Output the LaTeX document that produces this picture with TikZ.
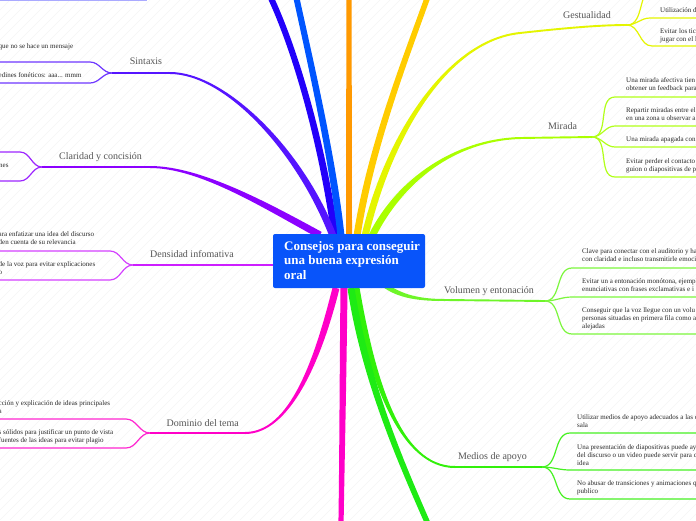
\documentclass[tikz,border=0pt]{standalone}
\usepackage{fontspec}
\setmainfont{Liberation Serif}
\usetikzlibrary{calc}
\definecolor{cblue}{RGB}{8,84,250}
\definecolor{cdblue}{RGB}{34,0,250}
\definecolor{cblue2}{RGB}{0,85,255}
\definecolor{corange}{RGB}{255,153,0}
\definecolor{cgold}{RGB}{255,204,0}
\definecolor{cyel}{RGB}{228,245,0}
\definecolor{clime}{RGB}{170,255,0}
\definecolor{cvol}{RGB}{110,245,40}
\definecolor{cmed}{RGB}{50,240,10}
\definecolor{cgreen}{RGB}{30,235,20}
\definecolor{cmag}{RGB}{255,0,200}
\definecolor{cden}{RGB}{205,30,255}
\definecolor{ccla}{RGB}{140,0,255}
\definecolor{csin}{RGB}{85,20,255}
\definecolor{clav}{RGB}{170,170,255}
\definecolor{lblc}{RGB}{85,85,85}
\definecolor{txt}{RGB}{40,40,40}
% tapered branch: colour, start, control1, control2, end, start half width, end half width
\newcommand\mmtaper[7]{%
  \path ($(#2)!#6!90:(#3)$) coordinate (tA1)
        ($(#2)!#6!-90:(#3)$) coordinate (tA2)
        ($(#5)!#7!-90:(#4)$) coordinate (tB1)
        ($(#5)!#7!90:(#4)$) coordinate (tB2);
  \fill[#1] (tA1) .. controls ($(#3)+(tA1)-(#2)$) and ($(#4)+(tB1)-(#5)$) .. (tB1)
        -- (tB2) .. controls ($(#4)+(tB2)-(#5)$) and ($(#3)+(tA2)-(#2)$) .. (tA2) -- cycle;
}
\begin{document}
\begin{tikzpicture}[x=1pt,y=-1pt,
  lbl/.style={font=\fontsize{10}{12}\selectfont, text=lblc, inner sep=0, anchor=base},
  leaf/.style={font=\fontsize{7}{8}\selectfont, text=txt, inner sep=0, align=left, anchor=north west},
  sub/.style={line width=1.2pt},
  hline/.style={line width=1.9pt},
  title/.style={font=\fontsize{13}{14.5}\selectfont\bfseries, text=white, inner sep=0, align=left, anchor=north west},
  cbox/.style={fill=cblue, rounded corners=2pt, minimum width=152pt, minimum height=54pt, inner sep=0}]
\useasboundingbox (0,0) rectangle (696,520);
\clip (0,0) rectangle (696,520);
\fill[white] (0,0) rectangle (696,520);
\foreach \i in {-520,-510,...,700} \draw[black!4, line width=0.6pt] (\i,520) -- ++(520,-520);

% ---------- coordinates ----------
\coordinate (lav1) at (-2,0.5); \coordinate (lav2) at (147,0.5);
\coordinate (dbS) at (335,236); \coordinate (dbE) at (270,-4);
\coordinate (blS) at (341,236); \coordinate (blE) at (296,-4);
\coordinate (orS) at (349,236); \coordinate (orE) at (349,-4);
\coordinate (goS) at (357,236); \coordinate (goE) at (428,-4);
\coordinate (geS) at (365,236); \coordinate (geE) at (520,33); \coordinate (geJ) at (627,25);
\coordinate (miS) at (372,236); \coordinate (miE) at (520,138); \coordinate (miJ) at (592,137);
\coordinate (voS) at (383,284); \coordinate (voE) at (445,300); \coordinate (voJ) at (545,301);
\coordinate (meS) at (356,288); \coordinate (meE) at (455,467); \coordinate (meJ) at (542,467);
\coordinate (grS) at (351,288); \coordinate (grE) at (428,524);
\coordinate (bmS) at (344,288); \coordinate (bmE) at (341,524);
\coordinate (doS) at (336,288); \coordinate (doE) at (245,433); \coordinate (doJ) at (150,433);
\coordinate (deS) at (280,265); \coordinate (deJ) at (133,265);
\coordinate (clS) at (320,235); \coordinate (clE) at (150,167); \coordinate (clJ) at (42,167);
\coordinate (siS) at (333,236); \coordinate (siE) at (170,73); \coordinate (siJ) at (112,73);

% ---------- sub-branches ----------
\draw[line width=1.5pt, clav] (lav1) -- (lav2);
% Sintaxis
\coordinate (siP1) at (90,62); \coordinate (siQ1) at (-2,62);
\coordinate (siP2) at (90,83); \coordinate (siQ2) at (-2,83);
\draw[sub, csin!85!white] (siJ) to[out=180,in=0] (siP1) -- (siQ1);
\draw[sub, csin!85!white] (siJ) to[out=180,in=0] (siP2) -- (siQ2);
% Claridad
\coordinate (clP1) at (20,152); \coordinate (clQ1) at (-2,152);
\coordinate (clP2) at (20,181); \coordinate (clQ2) at (-2,181);
\draw[sub, ccla!85!white] (clJ) to[out=180,in=0] (clP1) -- (clQ1);
\draw[sub, ccla!85!white] (clJ) to[out=180,in=0] (clP2) -- (clQ2);
% Densidad
\coordinate (deP1) at (110,251); \coordinate (deQ1) at (-2,251);
\coordinate (deP2) at (110,280); \coordinate (deQ2) at (-2,280);
\draw[sub, cden!85!white] (deJ) to[out=180,in=0] (deP1) -- (deQ1);
\draw[sub, cden!85!white] (deJ) to[out=180,in=0] (deP2) -- (deQ2);
% Dominio
\coordinate (doP1) at (126,419); \coordinate (doQ1) at (-2,419);
\coordinate (doP2) at (126,448); \coordinate (doQ2) at (-2,448);
\draw[sub, cmag!85!white] (doJ) to[out=180,in=0] (doP1) -- (doQ1);
\draw[sub, cmag!85!white] (doJ) to[out=180,in=0] (doP2) -- (doQ2);
% Gestualidad
\coordinate (geP0) at (655,-12); \coordinate (geQ0) at (698,-12);
\coordinate (geP1) at (650,18); \coordinate (geQ1) at (698,18);
\coordinate (geP2) at (652,46); \coordinate (geQ2) at (698,46);
\draw[sub, cyel] (geJ) to[out=0,in=180] (geP0) -- (geQ0);
\draw[sub, cyel] (geJ) to[out=0,in=180] (geP1) -- (geQ1);
\draw[sub, cyel] (geJ) to[out=0,in=180] (geP2) -- (geQ2);
% Mirada
\foreach \k/\yy in {1/97,2/126,3/147,4/177}{
  \coordinate (miP\k) at (615,\yy); \coordinate (miQ\k) at (698,\yy);
  \draw[sub, clime!90!white] (miJ) to[out=0,in=180] (miP\k) -- (miQ\k);}
% Volumen
\foreach \k/\yy in {1/268,2/297,3/334}{
  \coordinate (voP\k) at (572,\yy); \coordinate (voQ\k) at (698,\yy);
  \draw[sub, cvol!90!white] (voJ) to[out=0,in=180] (voP\k) -- (voQ\k);}
% Medios
\foreach \k/\yy in {1/433,2/470,3/499}{
  \coordinate (meP\k) at (570,\yy); \coordinate (meQ\k) at (698,\yy);
  \draw[sub, cmed!90!white] (meJ) to[out=0,in=180] (meP\k) -- (meQ\k);}

% ---------- main branches ----------
\draw[hline, csin] (siE) -- (siJ);
\draw[hline, ccla] (clE) -- (clJ);
\draw[line width=2.2pt, cden] (deS) -- (deJ);
\draw[hline, cmag] (doE) -- (doJ);
\draw[hline, cyel] (geE) .. controls (565,28) and (600,25) .. (geJ);
\draw[hline, clime] (miE) -- (miJ);
\draw[hline, cvol] (voE) -- (voJ);
\draw[hline, cmed] (meE) -- (meJ);

\mmtaper{cdblue}{dbS}{325,160}{300,60}{dbE}{3.5pt}{3pt}
\mmtaper{cblue2}{blS}{333,160}{310,60}{blE}{3.5pt}{3pt}
\mmtaper{corange}{orS}{349,150}{349,60}{orE}{3pt}{2.6pt}
\mmtaper{cgold}{goS}{370,150}{405,60}{goE}{3.5pt}{2.8pt}
\mmtaper{cyel}{geS}{390,130}{450,40}{geE}{3.5pt}{1pt}
\mmtaper{clime}{miS}{400,180}{455,140}{miE}{3.5pt}{1pt}
\mmtaper{cvol}{voS}{400,297}{420,300}{voE}{2.5pt}{1pt}
\mmtaper{cmed}{meS}{372,380}{400,467}{meE}{3.5pt}{1pt}
\mmtaper{cgreen}{grS}{365,380}{400,460}{grE}{3.5pt}{2.8pt}
\mmtaper{cmag}{bmS}{343,380}{342,460}{bmE}{3.5pt}{2.6pt}
\mmtaper{cmag}{doS}{318,360}{290,433}{doE}{3.5pt}{1pt}
\mmtaper{ccla}{clS}{265,205}{200,167}{clE}{3.5pt}{1pt}
\mmtaper{csin}{siS}{300,150}{225,73}{siE}{3.5pt}{1pt}

% ---------- labels ----------
\node[lbl] (lsin) at (146,64.5) {Sintaxis};
\node[lbl] (lcla) at (100.5,159) {Claridad y concisión};
\node[lbl] (lden) at (192,257) {Densidad infomativa};
\node[lbl] (ldom) at (202.7,426) {Dominio del tema};
\node[lbl] (lges) at (587,18) {Gestualidad};
\node[lbl] (lmir) at (562.5,129) {Mirada};
\node[lbl] (lvol) at (489,293) {Volumen y entonación};
\node[lbl] (lmed) at (492.5,459) {Medios de apoyo};

% ---------- leaf texts ----------
\node[leaf] (tsi1) at (-1.5,43.6) {que no se hace un mensaje};
\node[leaf] (tsi2) at (-1.5,72.6) {edines fonéticos: aaa... mmm};
\node[leaf, anchor=west] (tcl1) at (-1,166) {nes};
\node[leaf] (tde1) at (-1.5,231.6) {ara enfatizar una idea del discurso\\den cuenta de su relevancia};
\node[leaf] (tde2) at (-1.5,261.6) {de la voz para evitar explicaciones\\o};
\node[leaf] (tdo1) at (-1.5,400.6) {cción y explicación de ideas principales\\a};
\node[leaf] (tdo2) at (-1.5,429.6) {s sólidos para justificar un punto de vista\\fuentes de las ideas para evitar plagio};

\node[leaf] (tge1) at (660,7.6) {Utilización d};
\node[leaf] (tge2) at (660,28.6) {Evitar los tic\\jugar con el l};
\node[leaf] (tmi1) at (626,77.6) {Una mirada afectiva tien\\obtener un feedback para};
\node[leaf] (tmi2) at (626,107.6) {Repartir miradas entre el\\en una zona u observar a};
\node[leaf] (tmi3) at (626,136.6) {Una mirada apagada con};
\node[leaf] (tmi4) at (626,158.6) {Evitar perder el contacto\\guion o diapositivas de p};
\node[leaf] (tvo1) at (582,248.6) {Clave para conectar con el auditorio y ha\\con claridad e incluso transmitirle emoci};
\node[leaf] (tvo2) at (582,278.6) {Evitar un a entonación monótona, ejempl\\enunciativas con frases exclamativas e i};
\node[leaf] (tvo3) at (582,307.6) {Conseguir que la voz llegue con un volu\\personas situadas en primera fila como a\\alejadas};
\node[leaf] (tme1) at (577,414.6) {Utilizar medios de apoyo adecuados a las c\\sala};
\node[leaf] (tme2) at (577,444.6) {Una presentación de diapositivas puede ay\\del discurso o un video puede servir para c\\idea};
\node[leaf] (tme3) at (577,480.6) {No abusar de transiciones y animaciones q\\publico};

% ---------- central topic ----------
\node[cbox] (center) at (349,261) {};
\node[title] (ctitle) at (284,241) {Consejos para conseguir\\una buena expresión\\oral};
\end{tikzpicture}
\end{document}
